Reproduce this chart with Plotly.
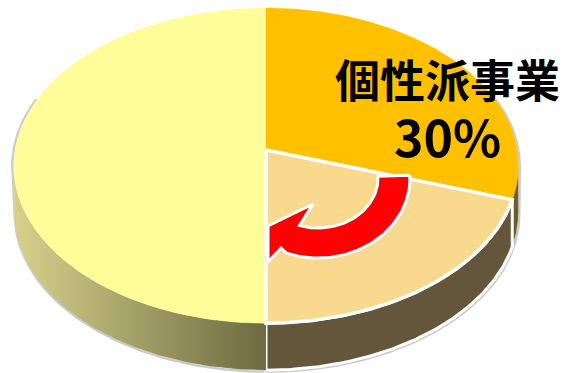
import numpy as np
import plotly.graph_objects as go

# ---- data ----
segments = ["個性派事業", "移行分", "その他"]
shares = [30, 20, 50]
top_colors = ["#FFC000", "#F9D98D", "#FFFD99"]
side_colors = ["#6e5a2a", "#63563A", "#d6d28b"]
side_dark = ["#6e5a2a", "#63563A", "#6c6a40"]
label_name = "個性派事業"
label_pct = "30%"

# ---- geometry (pixel-space axes) ----
W, H = 571, 373
CX, CY = 266, 150
RX, RY = 251, 156
P = 0.099
DEPTH = 47


def rim(deg, dy=0.0):
    t = np.radians(deg)
    d = 1 + P * np.cos(t)
    return CX + RX * np.sin(t) / d, CY - RY * np.cos(t) / d + dy


total = sum(shares)
bounds = np.concatenate([[0], np.cumsum(shares) / total * 360])
vis_lo = np.degrees(np.arccos(-P))
vis_hi = 360 - vis_lo

fig = go.Figure()

# soft shadow along the lower outline
sx0, sy0 = rim(np.linspace(70, vis_lo, 30))
bx, by = rim(np.linspace(vis_lo, vis_hi, 200), DEPTH)
sx1, sy1 = rim(np.linspace(vis_hi, 290, 30))
fig.add_trace(go.Scatter(x=list(sx0 + 1.5) + list(bx + 1) + list(sx1 - 1.5),
                         y=list(sy0 + 1) + list(by + 1.5) + list(sy1 + 1),
                         mode="lines", line=dict(color="rgba(150,150,150,0.5)", width=2.5),
                         hoverinfo="skip"))

# sides
for i in range(len(shares)):
    a, b = max(bounds[i], vis_lo), min(bounds[i + 1], vis_hi)
    if b <= a:
        continue
    tt = np.linspace(a, b, 120)
    x1, y1 = rim(tt)
    x2, y2 = rim(tt[::-1], DEPTH)
    xs = list(x1) + list(x2) + [x1[0]]
    ys = list(y1) + list(y2) + [y1[0]]
    kw = dict(fillcolor=side_dark[i])
    if side_colors[i] != side_dark[i]:
        kw = dict(fillgradient=dict(type="horizontal",
                                    colorscale=[[0, side_colors[i]], [1, side_dark[i]]]))
    fig.add_trace(go.Scatter(x=xs, y=ys, mode="lines", fill="toself",
                             line=dict(color="white", width=3 if i == 1 else 0.1),
                             hoverinfo="skip", **kw))

# top faces (outlined slice last)
order = [2, 0, 1]
for i in order:
    tt = np.linspace(bounds[i], bounds[i + 1], 150)
    x1, y1 = rim(tt)
    xs = [CX] + list(x1) + [CX]
    ys = [CY] + list(y1) + [CY]
    fig.add_trace(go.Scatter(x=xs, y=ys, mode="lines", fill="toself",
                             fillcolor=top_colors[i],
                             line=dict(color="white" if i == 1 else top_colors[i],
                                       width=3.5 if i == 1 else 0.5),
                             hoverinfo="skip"))

# curved red arrow
acx, acy = 318, 178
t_out = np.radians(np.linspace(-2, 110, 60))
t_in = np.radians(np.linspace(108, -2, 60))
ox, oy = acx + 92 * np.cos(t_out), acy + 80 * np.sin(t_out)
ix, iy = acx + 60 * np.cos(t_in), acy + 50 * np.sin(t_in)
ax_ = list(ox) + [281, 268, 268, 313] + list(ix) + [ox[0]]
ay_ = list(oy) + [248, 262, 226, 204] + list(iy) + [oy[0]]
fig.add_trace(go.Scatter(x=ax_, y=ay_, mode="lines", fill="toself", fillcolor="#FF0000",
                         line=dict(color="white", width=3), hoverinfo="skip"))

fig.add_annotation(x=447, y=108, showarrow=False, align="center",
                   text="<b>" + label_name + "</b><br><b><span style='font-size:50px'>"
                        + label_pct + "</span></b>",
                   font=dict(family="Noto Sans CJK JP", size=45, color="black"))

fig.update_layout(width=W, height=H, margin=dict(l=0, r=0, t=0, b=0),
                  plot_bgcolor="white", paper_bgcolor="white", showlegend=False,
                  xaxis=dict(range=[0, W], visible=False, fixedrange=True),
                  yaxis=dict(range=[H, 0], visible=False, fixedrange=True))
fig.write_html("out.html")
